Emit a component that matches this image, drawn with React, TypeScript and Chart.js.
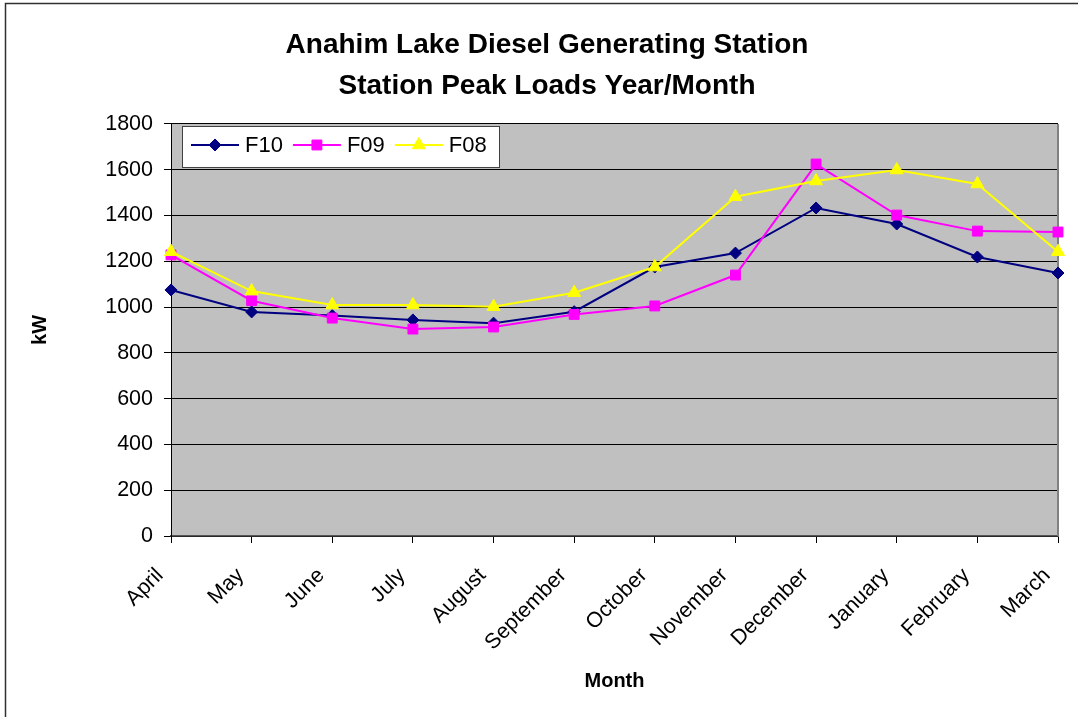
import React, { useEffect, useRef } from "react";
import { Chart, registerables } from "chart.js";
import { drawPoint } from "chart.js/helpers";

Chart.register(...registerables);

const months = ["April", "May", "June", "July", "August", "September", "October", "November", "December", "January", "February", "March"];
const f10 = [1075, 979, 963, 944, 930, 980, 1175, 1236, 1433, 1363, 1219, 1149];
const f09 = [1228, 1028, 952, 904, 913, 968, 1005, 1140, 1625, 1402, 1332, 1328];
const f08 = [1242, 1070, 1009, 1009, 1002, 1063, 1175, 1482, 1551, 1599, 1538, 1242];
const titleLines = ["Anahim Lake Diesel Generating Station", "Station Peak Loads Year/Month"];
const FONT = "'Liberation Sans', Arial, sans-serif";

const framePlugin = {
  id: "frame",
  beforeDraw(chart: any) {
    const { ctx, chartArea } = chart;
    ctx.save();
    ctx.fillStyle = "#ffffff";
    ctx.fillRect(0, 0, chart.width, chart.height);
    ctx.strokeStyle = "#303030";
    ctx.lineWidth = 1.5;
    ctx.strokeRect(5.5, 3.5, chart.width + 50, chart.height + 50);
    ctx.fillStyle = "#C0C0C0";
    ctx.fillRect(chartArea.left, chartArea.top, chartArea.right - chartArea.left, chartArea.bottom - chartArea.top);
    ctx.restore();
  },
  beforeDatasetsDraw(chart: any) {
    const { ctx, chartArea } = chart;
    ctx.save();
    ctx.strokeStyle = "#808080";
    ctx.lineWidth = 2;
    ctx.beginPath();
    ctx.moveTo(chartArea.right, chartArea.top);
    ctx.lineTo(chartArea.right, chartArea.bottom);
    ctx.stroke();
    ctx.restore();
  },
  afterDraw(chart: any) {
    const { ctx, chartArea } = chart;
    const bx = chartArea.left + 11;
    const by = chartArea.top + 2;
    const bw = 317;
    const bh = 41;
    ctx.save();
    ctx.fillStyle = "#ffffff";
    ctx.fillRect(bx, by, bw, bh);
    ctx.strokeStyle = "#404040";
    ctx.lineWidth = 1;
    ctx.strokeRect(bx + 0.5, by + 0.5, bw, bh);
    ctx.font = "22px " + FONT;
    ctx.textBaseline = "middle";
    ctx.textAlign = "left";
    let x = bx + 9;
    const cy = by + 19;
    chart.data.datasets.forEach((ds: any) => {
      ctx.strokeStyle = ds.borderColor;
      ctx.lineWidth = 2;
      ctx.beginPath();
      ctx.moveTo(x, cy);
      ctx.lineTo(x + 48, cy);
      ctx.stroke();
      ctx.fillStyle = ds.backgroundColor;
      ctx.strokeStyle = ds.borderColor;
      ctx.lineWidth = 1;
      drawPoint(ctx, { pointStyle: ds.pointStyle, radius: ds.pointRadius, rotation: 0, borderWidth: 1 }, x + 24, cy);
      ctx.fillStyle = "#000000";
      ctx.fillText(ds.label, x + 54, cy + 1);
      x = x + 54 + ctx.measureText(ds.label).width + 10;
    });
    ctx.restore();
  },
};

export default function App() {
  const ref = useRef<HTMLCanvasElement>(null);
  useEffect(() => {
    if (!ref.current) return;
    const chart = new Chart(ref.current, {
      type: "line",
      data: {
        labels: months,
        datasets: [
          { label: "F10", data: f10, borderColor: "#000080", backgroundColor: "#000080", pointStyle: "rectRot", pointRadius: 6, pointBorderWidth: 1, borderWidth: 2, order: 3, tension: 0 },
          { label: "F09", data: f09, borderColor: "#FF00FF", backgroundColor: "#FF00FF", pointStyle: "rect", pointRadius: 7, pointBorderWidth: 1, borderWidth: 2, order: 2, tension: 0 },
          { label: "F08", data: f08, borderColor: "#FFFF00", backgroundColor: "#FFFF00", pointStyle: "triangle", pointRadius: 7.5, pointBorderWidth: 1, borderWidth: 2, order: 1, tension: 0 },
        ],
      },
      options: {
        responsive: false,
        animation: false,
        devicePixelRatio: 1,
        layout: { padding: { left: 36, right: 20, top: 0, bottom: 0 } },
        plugins: {
          legend: { display: false },
          tooltip: { enabled: false },
          title: {
            display: true,
            text: titleLines,
            color: "#000000",
            font: { family: FONT, size: 28, weight: "bold", lineHeight: 1.464 },
            padding: { top: 25, bottom: 17 },
          },
        },
        scales: {
          x: {
            type: "category",
            offset: false,
            grid: { display: true, drawOnChartArea: false, drawTicks: true, tickLength: 7, color: "#000000" },
            border: { display: true, color: "#555555", width: 1.5 },
            ticks: { color: "#000000", font: { family: FONT, size: 21.5 }, maxRotation: 45, minRotation: 45, autoSkip: false, padding: 20, labelOffset: -11 },
            title: { display: true, text: "Month", color: "#000000", font: { family: FONT, size: 20, weight: "bold", lineHeight: 1.2 }, padding: { top: 0, bottom: 24 } },
            afterFit(scale: any) { scale.height = 181; scale.paddingLeft = 0; scale.paddingRight = 0; },
          },
          y: {
            min: 0,
            max: 1800,
            grid: { color: "#000000", lineWidth: 1, tickLength: 7 },
            border: { display: true, color: "#000000", width: 1 },
            ticks: { stepSize: 200, color: "#000000", font: { family: FONT, size: 21.5 }, padding: 11, callback: (v: any) => String(v) },
            title: { display: true, text: "kW", color: "#000000", font: { family: FONT, size: 20, weight: "bold", lineHeight: 1.2 }, padding: { top: -8, bottom: 0 } },
            afterFit(scale: any) { scale.width = 135; },
          },
        },
      },
      plugins: [framePlugin],
    });
    return () => chart.destroy();
  }, []);
  return (
    <div style={{ position: "absolute", left: 0, top: 0, width: 1078, height: 717 }}>
      <canvas ref={ref} width={1078} height={717} />
    </div>
  );
}
